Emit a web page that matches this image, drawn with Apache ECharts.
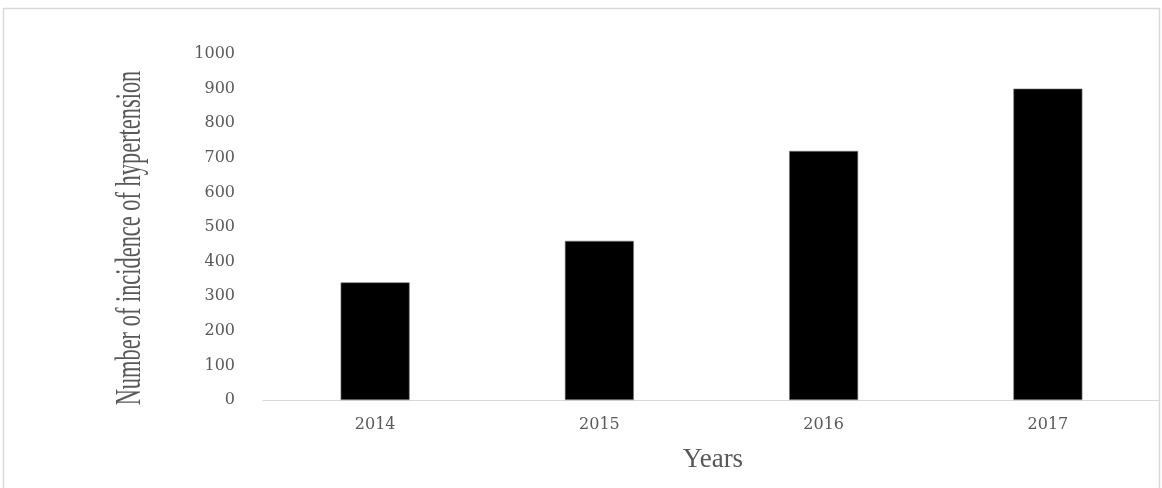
<!DOCTYPE html>
<html>
<head>
<meta charset="utf-8">
<script src="https://cdn.jsdelivr.net/npm/echarts@6/dist/echarts.min.js"></script>
<style>
    html, body { margin: 0; padding: 0; background: #fff; }
    #chart { width: 1162px; height: 488px; }
</style>
</head>
<body>
<div id="chart"></div>
<script>
const years = ['2014', '2015', '2016', '2017'];
const incidence = [340, 460, 720, 900];
const yTicks = { min: 0, max: 1000, interval: 100 };

const chart = echarts.init(document.getElementById('chart'));

const option = {
    animation: false,
    backgroundColor: '#fff',
    grid: {
        left: 263,
        right: 2,
        top: 54,
        bottom: 88
    },
    graphic: [{
        // outer frame
        type: 'rect',
        shape: { x: 3.5, y: 8.5, width: 1156, height: 500 },
        style: { fill: 'none', stroke: '#d9d9d9', lineWidth: 1.5 },
        silent: true
    }, {
        // condensed y axis title
        type: 'text',
        x: 113,
        y: 238,
        rotation: Math.PI / 2,
        scaleX: 0.64,
        style: {
            text: 'Number of incidence of hypertension',
            font: '35px "Liberation Serif"',
            fill: '#595959',
            align: 'center',
            verticalAlign: 'top'
        }
    }, {
        type: 'text',
        x: 713,
        y: 460,
        style: {
            text: 'Years',
            font: '27px "Liberation Serif"',
            fill: '#595959',
            align: 'center',
            verticalAlign: 'middle'
        }
    }],
    xAxis: {
        type: 'category',
        data: years,
        axisLine: {
            show: true,
            lineStyle: { color: '#d9d9d9', width: 1 }
        },
        axisTick: { show: false },
        axisLabel: {
            color: '#595959',
            fontFamily: 'DejaVu Serif',
            fontSize: 16,
            margin: 17
        }
    },
    yAxis: {
        type: 'value',
        min: yTicks.min,
        max: yTicks.max,
        interval: yTicks.interval,
        axisLine: { show: false },
        axisTick: { show: false },
        splitLine: { show: false },
        axisLabel: {
            color: '#595959',
            fontFamily: 'DejaVu Serif',
            fontSize: 16,
            margin: 28,
            formatter: (v) => String(v)
        }
    },
    series: [{
        type: 'bar',
        data: incidence,
        barWidth: 69,
        itemStyle: {
            color: '#000',
            borderColor: '#7f7f7f',
            borderWidth: 0.6
        }
    }]
};

chart.setOption(option);
</script>
</body>
</html>
